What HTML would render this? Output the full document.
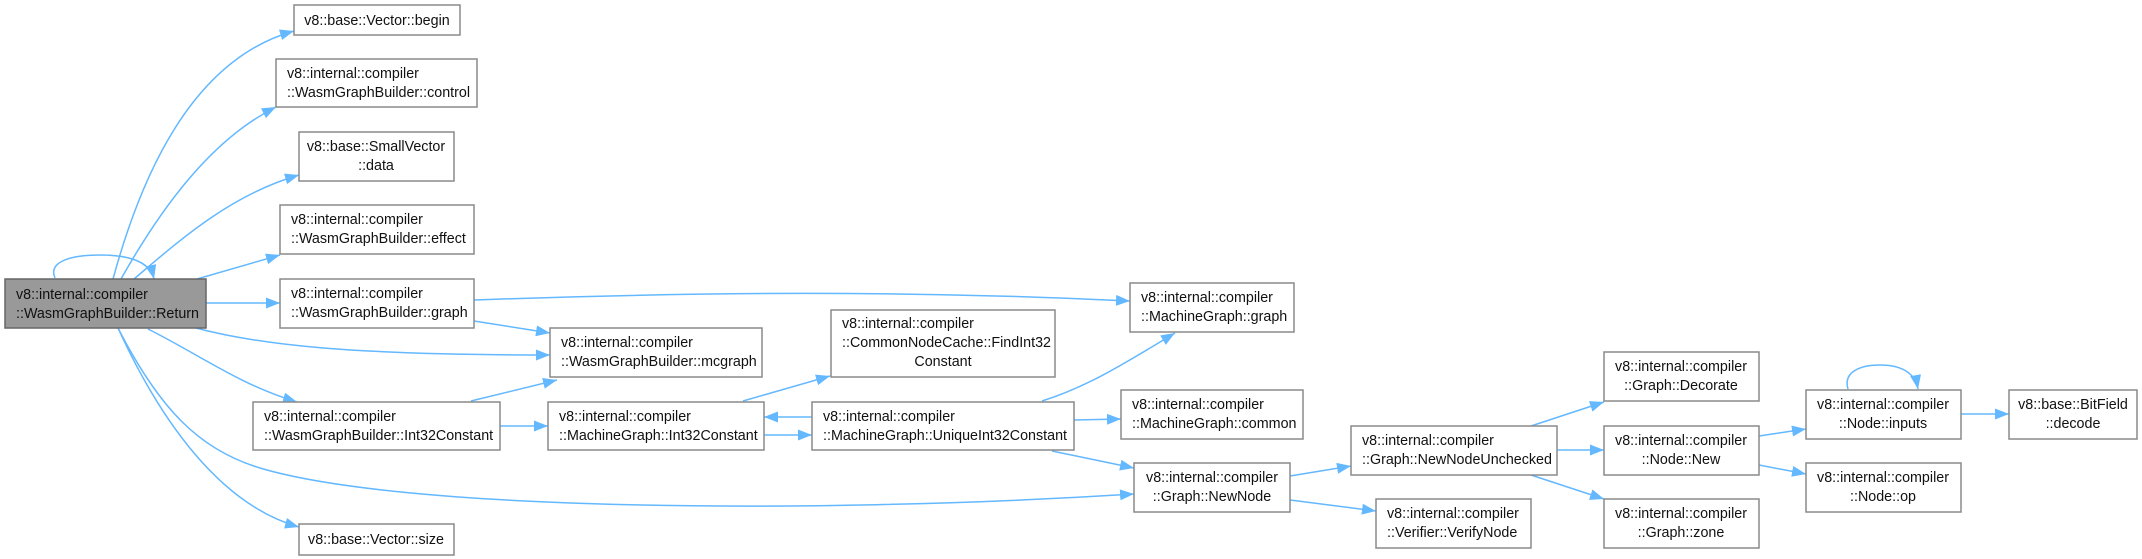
<!DOCTYPE html>
<html><head><meta charset="utf-8"><style>
html,body{margin:0;padding:0;background:#fff;}
svg{display:block;}
text{font-family:"Liberation Sans",sans-serif;font-size:14.3px;fill:#111;}
.b{fill:#fff;stroke:#8a8a8a;stroke-width:1.5;}
.e{fill:none;stroke:#63b8ff;stroke-width:1.5;}
</style></head><body>
<svg width="2142" height="559" viewBox="0 0 2142 559" xmlns="http://www.w3.org/2000/svg">
<defs>
<marker id="a" markerUnits="userSpaceOnUse" markerWidth="16" markerHeight="13" refX="14" refY="5.5" orient="auto">
<path d="M0,0 L14,5.5 L0,11 Z" fill="#63b8ff"/>
</marker>
</defs>
<g class="e">
<path marker-end="url(#a)" d="M113,279 C140,180 190,60 294,31"/>
<path marker-end="url(#a)" d="M121,279 C160,210 210,140 276,107"/>
<path marker-end="url(#a)" d="M134,279 C180,240 230,195 299,175"/>
<path marker-end="url(#a)" d="M55,278 C48,262 70,255 100,255 C130,255 150,262 154,279"/>
<path marker-end="url(#a)" d="M197,279 L280,255"/>
<path marker-end="url(#a)" d="M206,303 L280,303"/>
<path marker-end="url(#a)" d="M196,328 C260,345 350,355 550,355"/>
<path marker-end="url(#a)" d="M148,329 C200,355 240,385 297,402"/>
<path marker-end="url(#a)" d="M118,328 C160,410 200,450 260,468 C400,510 800,515 1134,494"/>
<path marker-end="url(#a)" d="M118,328 C160,420 220,505 299,527"/>
<path marker-end="url(#a)" d="M474,300 C700,292 900,290 1130,301"/>
<path marker-end="url(#a)" d="M474,321 L550,333"/>
<path marker-end="url(#a)" d="M471,401 L557,380"/>
<path marker-end="url(#a)" d="M500,426 L548,426"/>
<path marker-end="url(#a)" d="M743,401 L830,376"/>
<path marker-end="url(#a)" d="M764,435 L812,435"/>
<path marker-end="url(#a)" d="M812,417 L764,417"/>
<path marker-end="url(#a)" d="M1042,401 C1090,386 1130,360 1175,333"/>
<path marker-end="url(#a)" d="M1074,420 L1121,419"/>
<path marker-end="url(#a)" d="M1052,451 L1134,468"/>
<path marker-end="url(#a)" d="M1290,476 L1351,466"/>
<path marker-end="url(#a)" d="M1290,500 L1376,511"/>
<path marker-end="url(#a)" d="M1531,426 L1604,402"/>
<path marker-end="url(#a)" d="M1557,450 L1604,450"/>
<path marker-end="url(#a)" d="M1531,475 L1604,499"/>
<path marker-end="url(#a)" d="M1759,436 L1806,429"/>
<path marker-end="url(#a)" d="M1759,465 L1806,474"/>
<path marker-end="url(#a)" d="M1961,414 L2009,414"/>
<path marker-end="url(#a)" d="M1848,389 C1843,372 1860,365 1880,365 C1900,365 1915,372 1918,389"/>
</g>

<rect x="5" y="279" width="201" height="49" fill="#999" stroke="#666" stroke-width="1.5"/>
<text x="16" y="299">v8::internal::compiler</text><text x="16" y="318">::WasmGraphBuilder::Return</text>

<rect class="b" x="294" y="5" width="166" height="30"/>
<text x="377" y="25" text-anchor="middle">v8::base::Vector::begin</text>

<rect class="b" x="276" y="59" width="201" height="48"/>
<text x="287" y="78">v8::internal::compiler</text><text x="287" y="97">::WasmGraphBuilder::control</text>

<rect class="b" x="299" y="132" width="155" height="49"/>
<text x="376" y="151" text-anchor="middle">v8::base::SmallVector</text><text x="376" y="170" text-anchor="middle">::data</text>

<rect class="b" x="280" y="205" width="194" height="49"/>
<text x="291" y="224">v8::internal::compiler</text><text x="291" y="243">::WasmGraphBuilder::effect</text>

<rect class="b" x="280" y="279" width="194" height="49"/>
<text x="291" y="298">v8::internal::compiler</text><text x="291" y="317">::WasmGraphBuilder::graph</text>

<rect class="b" x="253" y="402" width="247" height="48"/>
<text x="264" y="421">v8::internal::compiler</text><text x="264" y="440">::WasmGraphBuilder::Int32Constant</text>

<rect class="b" x="299" y="524" width="155" height="31"/>
<text x="376" y="544" text-anchor="middle">v8::base::Vector::size</text>

<rect class="b" x="550" y="328" width="212" height="49"/>
<text x="561" y="347">v8::internal::compiler</text><text x="561" y="366">::WasmGraphBuilder::mcgraph</text>

<rect class="b" x="548" y="402" width="216" height="48"/>
<text x="559" y="421">v8::internal::compiler</text><text x="559" y="440">::MachineGraph::Int32Constant</text>

<rect class="b" x="831" y="310" width="224" height="67"/>
<text x="842" y="328">v8::internal::compiler</text><text x="842" y="347">::CommonNodeCache::FindInt32</text><text x="943" y="366" text-anchor="middle">Constant</text>

<rect class="b" x="812" y="402" width="262" height="48"/>
<text x="823" y="421">v8::internal::compiler</text><text x="823" y="440">::MachineGraph::UniqueInt32Constant</text>

<rect class="b" x="1130" y="283" width="164" height="49"/>
<text x="1141" y="302">v8::internal::compiler</text><text x="1141" y="321">::MachineGraph::graph</text>

<rect class="b" x="1121" y="390" width="182" height="49"/>
<text x="1132" y="409">v8::internal::compiler</text><text x="1132" y="428">::MachineGraph::common</text>

<rect class="b" x="1134" y="463" width="156" height="49"/>
<text x="1212" y="482" text-anchor="middle">v8::internal::compiler</text><text x="1212" y="501" text-anchor="middle">::Graph::NewNode</text>

<rect class="b" x="1351" y="426" width="206" height="49"/>
<text x="1362" y="445">v8::internal::compiler</text><text x="1362" y="464">::Graph::NewNodeUnchecked</text>

<rect class="b" x="1376" y="499" width="155" height="49"/>
<text x="1387" y="518">v8::internal::compiler</text><text x="1387" y="537">::Verifier::VerifyNode</text>

<rect class="b" x="1604" y="352" width="155" height="49"/>
<text x="1681" y="371" text-anchor="middle">v8::internal::compiler</text><text x="1681" y="390" text-anchor="middle">::Graph::Decorate</text>

<rect class="b" x="1604" y="426" width="155" height="49"/>
<text x="1681" y="445" text-anchor="middle">v8::internal::compiler</text><text x="1681" y="464" text-anchor="middle">::Node::New</text>

<rect class="b" x="1604" y="499" width="155" height="49"/>
<text x="1681" y="518" text-anchor="middle">v8::internal::compiler</text><text x="1681" y="537" text-anchor="middle">::Graph::zone</text>

<rect class="b" x="1806" y="390" width="155" height="49"/>
<text x="1883" y="409" text-anchor="middle">v8::internal::compiler</text><text x="1883" y="428" text-anchor="middle">::Node::inputs</text>

<rect class="b" x="1806" y="463" width="155" height="49"/>
<text x="1883" y="482" text-anchor="middle">v8::internal::compiler</text><text x="1883" y="501" text-anchor="middle">::Node::op</text>

<rect class="b" x="2009" y="390" width="128" height="49"/>
<text x="2073" y="409" text-anchor="middle">v8::base::BitField</text><text x="2073" y="428" text-anchor="middle">::decode</text>
</svg>
</body></html>
